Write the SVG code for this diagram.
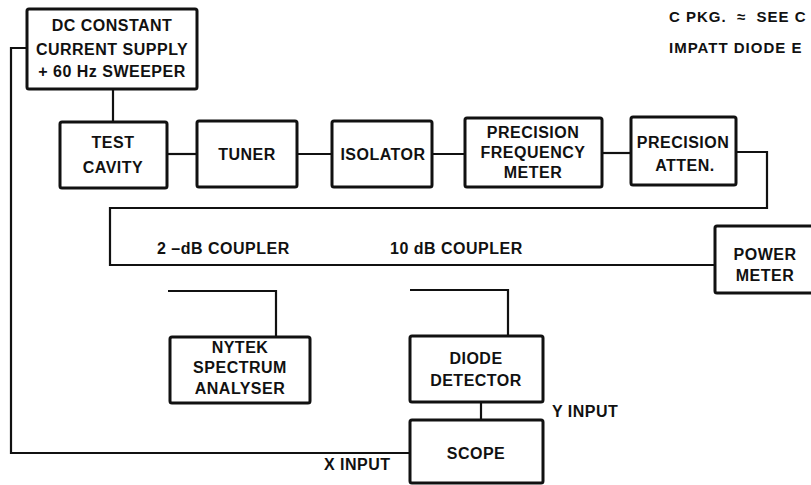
<svg xmlns="http://www.w3.org/2000/svg" width="811" height="485" viewBox="0 0 811 485">
<style>
.box{fill:#fff;stroke:#111;stroke-width:3;}
.ln{fill:none;stroke:#111;stroke-width:2.2;stroke-linejoin:miter;}
text{font-family:"Liberation Sans",Arial,sans-serif;font-weight:bold;font-size:16px;letter-spacing:0.5px;fill:#111;text-anchor:middle;dominant-baseline:central;}
.l{text-anchor:start;}
.sm{font-size:15px;letter-spacing:1px;white-space:pre;}
</style>
<rect width="811" height="485" fill="#fff"/>
<g id="connectors">
<polyline class="ln" points="27,48 11,48 11,453 410,453"/>
<line class="ln" x1="113" y1="89" x2="113" y2="122"/>
<line class="ln" x1="167" y1="154" x2="197" y2="154"/>
<line class="ln" x1="297" y1="154" x2="332" y2="154"/>
<line class="ln" x1="432" y1="154" x2="465" y2="154"/>
<line class="ln" x1="602" y1="153" x2="631" y2="153"/>
<polyline class="ln" points="736,152 767,152 767,208 110,208 110,265 715,265"/>
<polyline class="ln" points="168,291 276,291 276,337"/>
<polyline class="ln" points="410,290 508,290 508,336"/>
<line class="ln" x1="481" y1="402" x2="481" y2="420"/>
</g>
<g id="dc-supply">
<rect class="box" x="27" y="9" width="170" height="80" rx="2"/>
<text x="112" y="25">DC CONSTANT</text>
<text x="112" y="49">CURRENT SUPPLY</text>
<text x="112" y="71">+ 60 Hz SWEEPER</text>
</g>
<g id="test-cavity">
<rect class="box" x="60" y="122" width="107" height="66" rx="2"/>
<text x="113" y="142">TEST</text>
<text x="113" y="167">CAVITY</text>
</g>
<g id="tuner">
<rect class="box" x="197" y="121" width="100" height="66" rx="2"/>
<text x="247" y="154">TUNER</text>
</g>
<g id="isolator">
<rect class="box" x="332" y="121" width="100" height="66" rx="2"/>
<text x="383" y="154">ISOLATOR</text>
</g>
<g id="freq-meter">
<rect class="box" x="465" y="118" width="137" height="69" rx="2"/>
<text x="533" y="132">PRECISION</text>
<text x="533" y="152">FREQUENCY</text>
<text x="533" y="172">METER</text>
</g>
<g id="atten">
<rect class="box" x="631" y="117" width="105" height="68" rx="2"/>
<text x="683" y="142">PRECISION</text>
<text x="685" y="165">ATTEN.</text>
</g>
<g id="couplers">
<text class="l" x="157" y="248">2 –dB COUPLER</text>
<text class="l" x="390" y="248">10 dB COUPLER</text>
</g>
<g id="power-meter">
<rect class="box" x="715" y="226" width="120" height="67" rx="2"/>
<text x="765" y="254">POWER</text>
<text x="765" y="275">METER</text>
</g>
<g id="spectrum-analyser">
<rect class="box" x="170" y="337" width="140" height="66" rx="2"/>
<text x="240" y="347">NYTEK</text>
<text x="240" y="367">SPECTRUM</text>
<text x="240" y="388">ANALYSER</text>
</g>
<g id="diode-detector">
<rect class="box" x="410" y="336" width="133" height="66" rx="2"/>
<text x="476" y="358">DIODE</text>
<text x="476" y="380">DETECTOR</text>
</g>
<g id="scope">
<rect class="box" x="410" y="420" width="133" height="63" rx="2"/>
<text x="476" y="453">SCOPE</text>
</g>
<g id="labels">
<text class="l" x="552" y="411">Y INPUT</text>
<text class="l" x="324" y="464">X INPUT</text>
<text class="l sm" x="669" y="16" xml:space="preserve">C PKG.  ≈  SEE C</text>
<text class="l sm" x="669" y="47">IMPATT DIODE E</text>
</g>
</svg>
